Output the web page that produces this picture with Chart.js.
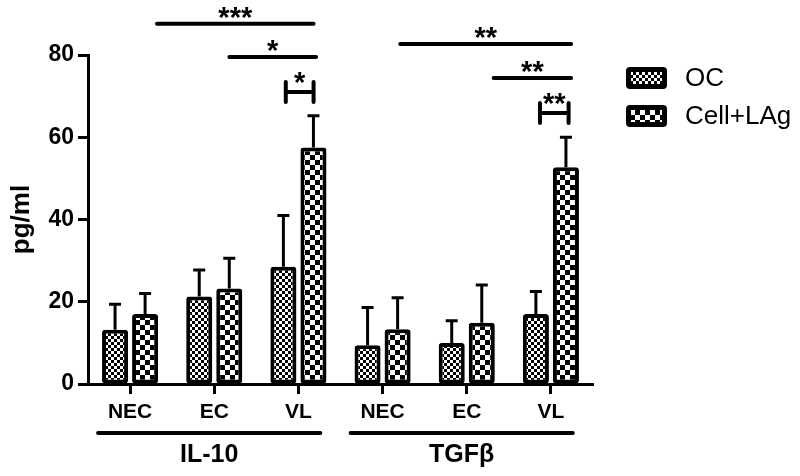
<!DOCTYPE html>
<html>
<head>
<meta charset="utf-8">
<script src="https://cdn.jsdelivr.net/npm/chart.js@4.4.1/dist/chart.umd.min.js"></script>
<style>
  html, body { margin: 0; padding: 0; background: #fff; }
  #wrap { width: 800px; height: 476px; }
</style>
</head>
<body>
<div id="wrap"><canvas id="chart"></canvas></div>
<script>
// values
const categories = ['NEC', 'EC', 'VL', 'NEC', 'EC', 'VL'];
const groupLabels = ['IL-10', 'TGFβ'];
const groupStart = [0, 3];
const groupEnd = [2, 5];
const seriesLabels = ['OC', 'Cell+LAg'];
const ocValues = [13.2, 21.3, 28.5, 9.4, 10.0, 17.0];
const ocErrors = [6.2, 6.4, 12.5, 9.2, 5.4, 5.5];
const cellValues = [17.0, 23.2, 57.5, 13.3, 14.9, 52.7];
const cellErrors = [5.0, 7.4, 7.7, 7.7, 9.2, 7.3];

// significance marks, x in category units, y in pg/ml
const sigText = ['***', '*', '*', '**', '**', '**'];
const sigFrom = [0.32, 1.18, 1.85, 3.21, 4.32, 4.87];
const sigTo = [2.18, 2.21, 2.18, 5.24, 5.24, 5.21];
const sigLevel = [87.6, 79.5, 71.0, 82.7, 74.4, 65.9];
const sigBracket = [false, false, true, false, false, true];

const FONT = '"Liberation Sans", Arial, sans-serif';

function makePattern(cell) {
  const c = document.createElement('canvas');
  c.width = cell * 2;
  c.height = cell * 2;
  const g = c.getContext('2d');
  g.fillStyle = '#000';
  g.fillRect(0, 0, cell * 2, cell * 2);
  g.fillStyle = '#fff';
  g.fillRect(0, 0, cell, cell);
  g.fillRect(cell, cell, cell, cell);
  return g.createPattern(c, 'repeat');
}

const ocFill = makePattern(3);
const cellFill = makePattern(5);

function catPx(xs, v) {
  const p0 = xs.getPixelForValue(0);
  const step = xs.getPixelForValue(1) - p0;
  return p0 + v * step;
}

const errorBars = {
  id: 'errorBars',
  afterDatasetsDraw(chart) {
    const ctx = chart.ctx;
    const ys = chart.scales.y;
    const errs = [ocErrors, cellErrors];
    ctx.save();
    ctx.strokeStyle = '#000';
    ctx.lineWidth = 3;
    chart.data.datasets.forEach((ds, di) => {
      chart.getDatasetMeta(di).data.forEach((bar, i) => {
        const top = ys.getPixelForValue(ds.data[i] + errs[di][i]);
        ctx.beginPath();
        ctx.moveTo(bar.x, bar.y);
        ctx.lineTo(bar.x, top);
        ctx.moveTo(bar.x - 6, top);
        ctx.lineTo(bar.x + 6, top);
        ctx.stroke();
      });
    });
    ctx.restore();
  },
};

const extras = {
  id: 'extras',
  afterDraw(chart) {
    const ctx = chart.ctx;
    const xs = chart.scales.x;
    const ys = chart.scales.y;
    ctx.save();
    ctx.strokeStyle = '#000';
    ctx.fillStyle = '#000';
    ctx.lineCap = 'round';

    // significance lines and brackets
    sigText.forEach((t, i) => {
      const x1 = catPx(xs, sigFrom[i]);
      const x2 = catPx(xs, sigTo[i]);
      const y = ys.getPixelForValue(sigLevel[i]);
      ctx.lineWidth = 4;
      ctx.beginPath();
      ctx.moveTo(x1, y);
      ctx.lineTo(x2, y);
      if (sigBracket[i]) {
        ctx.moveTo(x1, y - 10);
        ctx.lineTo(x1, y + 10);
        ctx.moveTo(x2, y - 10);
        ctx.lineTo(x2, y + 10);
      }
      ctx.stroke();
      ctx.font = 'bold 29px ' + FONT;
      ctx.textAlign = 'center';
      ctx.textBaseline = 'alphabetic';
      ctx.fillText(t, (x1 + x2) / 2, sigBracket[i] ? y : y + 3);
    });

    // group lines under the category labels
    groupLabels.forEach((label, g) => {
      const x1 = catPx(xs, groupStart[g] - 0.38);
      const x2 = catPx(xs, groupEnd[g] + 0.26);
      ctx.lineWidth = 4;
      ctx.beginPath();
      ctx.moveTo(x1, 433);
      ctx.lineTo(x2, 433);
      ctx.stroke();
      ctx.font = 'bold 25px ' + FONT;
      ctx.textAlign = 'center';
      ctx.textBaseline = 'middle';
      ctx.fillText(label, (x1 + x2) / 2, 455);
    });

    // legend
    const fills = [ocFill, cellFill];
    seriesLabels.forEach((label, i) => {
      const bx = 626, by = 67 + i * 38;
      ctx.beginPath();
      ctx.roundRect(bx, by, 41, 22, 4);
      ctx.fill();
      ctx.fillStyle = fills[i];
      ctx.fillRect(bx + 5, by + 5, 31, 12);
      ctx.fillStyle = '#000';
      ctx.font = '26px ' + FONT;
      ctx.textAlign = 'left';
      ctx.textBaseline = 'middle';
      ctx.fillText(label, 685, by + 12);
    });
    ctx.restore();
  },
};

new Chart(document.getElementById('chart'), {
  type: 'bar',
  data: {
    labels: categories,
    datasets: [
      { label: seriesLabels[0], data: ocValues, backgroundColor: ocFill },
      { label: seriesLabels[1], data: cellValues, backgroundColor: cellFill },
    ],
  },
  options: {
    responsive: true,
    maintainAspectRatio: false,
    animation: false,
    layout: { padding: { top: 55, right: 207, bottom: 0, left: 0 } },
    datasets: {
      bar: {
        borderColor: '#000',
        borderWidth: 4,
        borderSkipped: false,
        borderRadius: 3,
        barPercentage: 0.867,
        categoryPercentage: 0.714,
      },
    },
    scales: {
      x: {
        offset: true,
        ticks: { color: '#000', font: { family: FONT, size: 21, weight: 'bold' }, padding: 6, maxRotation: 0, autoSkip: false },
        grid: { offset: false, drawOnChartArea: false, tickLength: 10, tickWidth: 3, color: '#000' },
        border: { width: 3, color: '#000' },
        afterFit(s) { s.height = 92; },
      },
      y: {
        min: 0,
        max: 80,
        ticks: { stepSize: 20, color: '#000', font: { family: FONT, size: 23, weight: 'bold' }, padding: 4 },
        grid: { drawOnChartArea: false, tickLength: 10, tickWidth: 3, color: '#000' },
        border: { width: 3, color: '#000' },
        title: { display: true, text: 'pg/ml', color: '#000', font: { family: FONT, size: 26, weight: 'bold' }, padding: { top: 6, bottom: 0 } },
        afterFit(s) { s.width = 88; },
      },
    },
    plugins: {
      legend: { display: false },
      tooltip: { enabled: false },
    },
  },
  plugins: [errorBars, extras],
});
</script>
</body>
</html>
